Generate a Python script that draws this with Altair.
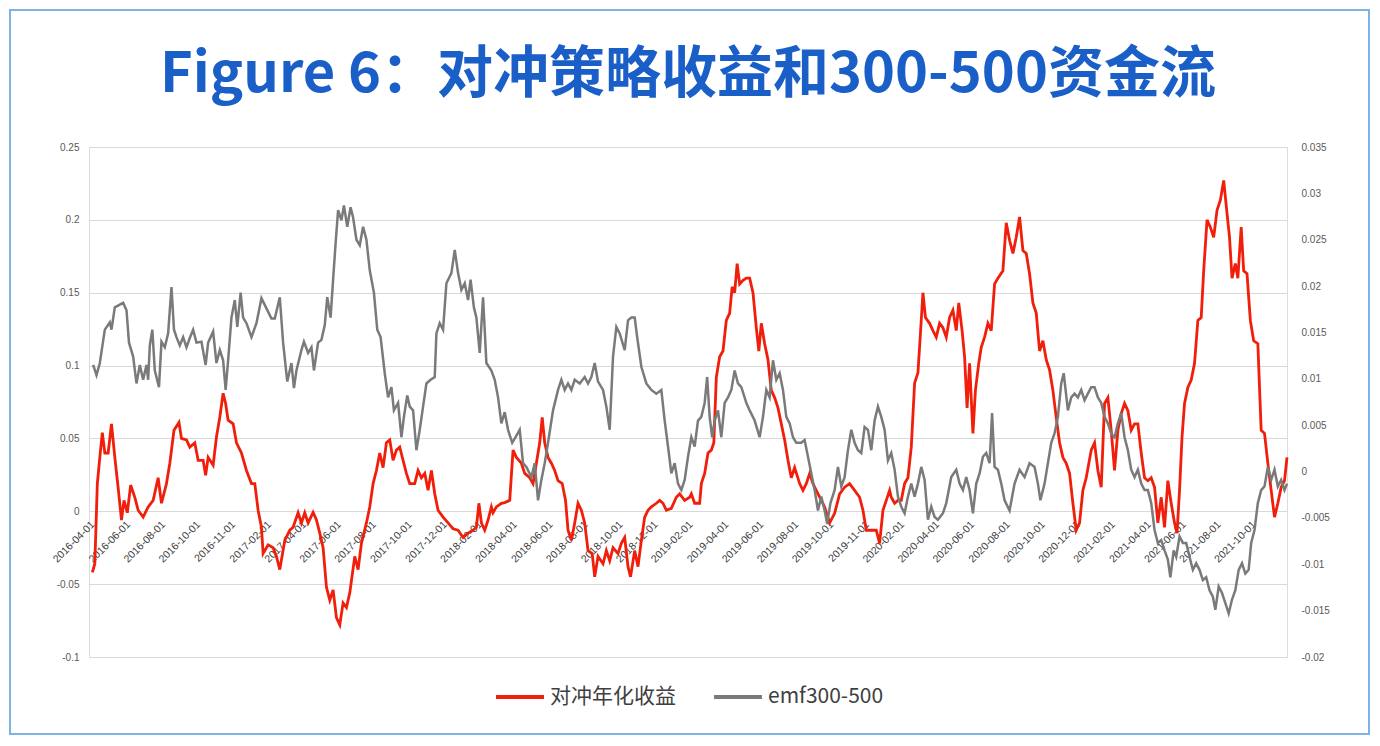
import altair as alt
import pandas as pd

# ---------------- data (trading-day index, value) ----------------
red_t = [0,3,6,9,12,15,19,23,27,31,35,38,42,46,51,55,61,67,73,79,83,89,93,98,104,107,113,117,123,127,133,136,139,145,149,153,157,160,163,169,173,179,185,191,195,199,203,205,211,217,221,225,231,237,
         241,247,251,255,259,265,269,273,277,281,285,289,293,297,301,305,309,315,319,323,329,333,337,341,345,349,353,357,361,365,369,373,377,381,387,391,395,399,403,407,411,415,421,427,433,439,445,451,457,461,464,467,471,475,479,
         481,485,491,495,501,505,509,515,519,525,529,533,537,540,543,547,551,555,559,564,568,571,575,579,583,587,591,595,600,603,607,613,617,621,625,631,635,639,643,646,651,655,659,663,667,671,677,681,685,689,695,701,705,711,717,
         719,723,729,731,735,739,743,746,749,753,757,761,765,768,771,774,777,781,785,789,793,797,800,803,807,811,815,819,823,827,831,835,839,843,849,853,857,861,865,869,875,879,885,891,897,903,909,915,921,925,929,935,941,945,949,953,957,
         959,963,967,971,975,979,983,987,991,994,997,1000,1005,1009,1013,1017,1021,1025,1029,1033,1037,1040,1044,1047,1050,1053,1057,1060,1064,1067,1071,1075,1079,1083,1087,1093,1097,1101,1105,1109,1113,1117,1121,1125,1129,1133,1137,1141,1145,1149,1153,1157,1161,1165,1169,1173,1177,1181,1185,1189,1193,1199,
         1203,1207,1211,1215,1219,1223,1227,1231,1235,1239,1243,1247,1251,1255,1259,1263,1267,1271,1275,1279,1283,1287,1291,1295,1299,1302,1305,1308,1311,1315,1319,1323,1327,1331,1334,1338,1342,1346,1350,1354,1358,1362,1365,1368,1372,1375,1379,1382,1386,1390,1394,1399,1403,1407,1411,1415,1419,1423,1427,1431,1434]
red_v = [-0.042,-0.036,0.019,0.037,0.054,0.04,0.04,0.06,0.037,0.016,-0.006,0.0075,-0.001,0.018,0.0096,0.0007,-0.004,0.003,0.0075,0.023,0.0055,0.019,0.033,0.0556,0.061,0.05,0.049,0.044,0.047,0.035,0.035,0.0247,0.037,0.0316,0.051,0.0645,0.081,0.074,0.0625,0.06,0.047,0.04,0.028,0.019,0.019,0.0007,-0.011,-0.029,-0.023,-0.025,-0.031,-0.04,-0.02,-0.013,
         -0.011,-0.001,-0.008,-0.001,-0.008,-0.0007,-0.006,-0.015,-0.025,-0.052,-0.061,-0.054,-0.073,-0.078,-0.063,-0.066,-0.056,-0.031,-0.04,-0.022,-0.008,0.003,0.019,0.028,0.04,0.030,0.047,0.049,0.035,0.042,0.044,0.035,0.026,0.019,0.019,0.028,0.023,0.026,0.0144,0.028,0.012,0.0007,-0.004,-0.008,-0.012,-0.013,-0.018,-0.015,-0.013,-0.011,0.0055,-0.008,-0.013,-0.006,0.003,
         -0.001,0.003,0.0055,0.006,0.0075,0.042,0.037,0.033,0.026,0.023,0.019,0.033,0.047,0.0645,0.047,0.037,0.033,0.028,0.021,0.019,0.0075,-0.013,-0.02,-0.008,0.0055,0.0007,-0.008,-0.027,-0.029,-0.045,-0.031,-0.036,-0.027,-0.034,-0.025,-0.029,-0.022,-0.018,-0.038,-0.045,-0.027,-0.038,-0.02,-0.004,0.0007,0.003,0.0055,0.0075,0.0055,0.0007,0.002,0.0096,0.012,0.0075,0.0096,
         0.012,0.0055,0.0055,0.019,0.026,0.04,0.042,0.047,0.092,0.106,0.11,0.131,0.136,0.154,0.15,0.17,0.156,0.1585,0.16,0.16,0.15,0.126,0.11,0.129,0.115,0.104,0.083,0.078,0.071,0.06,0.049,0.035,0.023,0.03,0.019,0.0144,0.019,0.026,0.019,0.0144,0.0075,0.003,-0.008,-0.0014,0.012,0.0165,0.019,0.0144,0.0096,0.0007,-0.013,-0.013,-0.013,-0.022,0.0007,0.0075,0.0144,
         0.0096,0.0055,0.0075,0.0075,0.019,0.023,0.044,0.088,0.095,0.122,0.15,0.133,0.129,0.124,0.1195,0.129,0.126,0.1195,0.133,0.138,0.124,0.143,0.124,0.106,0.071,0.1015,0.0535,0.083,0.1015,0.1125,0.1195,0.129,0.124,0.156,0.16,0.165,0.198,0.186,0.177,0.188,0.202,0.179,0.177,0.163,0.143,0.136,0.11,0.117,0.104,0.097,0.083,0.0645,0.047,0.037,0.033,0.026,0.0055,-0.013,-0.008,0.0144,0.023,0.042,
         0.047,0.028,0.0165,0.074,0.078,0.0556,0.028,0.0556,0.067,0.074,0.069,0.0556,0.06,0.06,0.04,0.023,0.021,0.023,0.0165,-0.008,0.0096,-0.011,0.021,0.0055,-0.008,-0.015,0.0144,0.051,0.074,0.085,0.09,0.1015,0.131,0.133,0.165,0.2,0.195,0.188,0.2066,0.2135,0.227,0.2045,0.188,0.16,0.17,0.16,0.195,0.165,0.163,0.131,0.117,0.115,0.0556,0.0535,0.033,0.0144,-0.004,0.0055,0.0165,0.021,0.037]

gray_t = [1,5,9,15,21,23,27,33,37,41,44,49,53,57,61,65,67,69,72,75,80,83,87,91,95,98,101,105,109,113,117,121,125,131,136,139,145,149,153,157,160,163,167,171,174,178,181,185,191,197,203,209,215,219,225,229,234,
          239,242,245,251,254,259,263,266,271,275,279,282,286,289,292,295,299,302,306,310,313,317,321,325,329,333,338,342,346,351,355,359,362,367,371,374,378,381,385,389,393,397,401,406,411,413,417,421,425,431,435,439,443,447,451,454,458,461,465,469,473,479,
          483,487,491,495,499,504,508,513,517,521,527,531,535,539,543,547,553,559,563,567,571,575,579,585,591,595,599,603,607,613,617,621,625,629,633,639,643,647,651,654,659,665,671,677,683,687,691,695,699,703,707,711,715,719,
          723,727,731,735,738,741,744,747,751,755,759,763,767,771,775,779,785,789,795,801,805,809,813,817,821,825,829,833,837,841,845,851,855,859,863,867,871,875,879,882,886,891,895,899,903,907,911,915,919,923,927,931,935,939,943,947,951,955,959,
          963,967,971,975,979,983,987,991,995,999,1003,1007,1011,1015,1021,1025,1031,1037,1041,1045,1049,1053,1057,1061,1065,1069,1073,1077,1080,1083,1087,1091,1095,1101,1107,1113,1119,1125,1131,1135,1138,1143,1147,1151,1155,1159,1163,1166,1171,1175,1179,1183,1187,1191,1195,1199,
          1203,1207,1211,1215,1219,1223,1227,1231,1235,1239,1243,1247,1251,1255,1259,1263,1267,1271,1275,1279,1283,1287,1291,1294,1298,1301,1305,1309,1313,1317,1321,1325,1329,1333,1337,1341,1345,1348,1352,1356,1360,1364,1368,1372,1376,1380,1384,1388,1391,1395,1399,1403,1407,1411,1415,1419,1423,1427,1431,1434]
gray_v = [0.0115,0.0104,0.0117,0.0153,0.0161,0.0153,0.0177,0.018,0.0182,0.0174,0.0139,0.0124,0.0095,0.0115,0.0099,0.0115,0.0099,0.0136,0.0153,0.0109,0.0091,0.014,0.0134,0.0149,0.0199,0.0153,0.0145,0.0136,0.0145,0.0134,0.0144,0.0153,0.0139,0.014,0.0115,0.0139,0.0151,0.0117,0.0131,0.012,0.0088,0.012,0.0166,0.0185,0.0156,0.0193,0.0166,0.016,0.0145,0.016,0.0187,0.0176,0.0165,0.0165,0.0188,0.0139,0.0097,
          0.0117,0.009,0.0109,0.0131,0.014,0.0128,0.0134,0.0109,0.0139,0.0142,0.0158,0.0188,0.0166,0.0207,0.0246,0.0282,0.0271,0.0287,0.0264,0.0285,0.0274,0.025,0.0244,0.0264,0.025,0.0217,0.0193,0.0153,0.0145,0.0106,0.008,0.0091,0.0066,0.0074,0.0037,0.0059,0.0082,0.007,0.0066,0.0023,0.0045,0.007,0.0095,0.0099,0.0102,0.0149,0.016,0.0153,0.0203,0.0214,0.0239,0.0214,0.0196,0.0203,0.0185,0.0207,0.0177,0.0166,0.0128,0.0188,0.0117,0.0109,
          0.0099,0.008,0.0052,0.0064,0.0045,0.0031,0.0037,0.0045,0.0009,0.0005,-0.0006,0.0009,-0.0031,-0.0009,0.0009,0.0031,0.0066,0.0088,0.0099,0.0088,0.0095,0.0088,0.0099,0.0095,0.0102,0.0095,0.0102,0.0117,0.0097,0.0088,0.007,0.0045,0.0124,0.0156,0.0149,0.0131,0.0163,0.0166,0.0166,0.0145,0.0113,0.0095,0.0088,0.0084,0.0088,0.0055,0.0027,-0.0002,0.0009,-0.0013,-0.002,-0.0009,0.0016,0.0037,
          0.0027,0.0055,0.0059,0.0074,0.0102,0.0059,0.0037,0.0055,0.0066,0.0037,0.0074,0.008,0.0088,0.0109,0.0095,0.0091,0.0074,0.0066,0.0055,0.0037,0.0059,0.0088,0.008,0.012,0.0099,0.0106,0.0088,0.0059,0.0052,0.0037,0.0031,0.0031,0.0034,0.0016,-0.0002,-0.002,-0.0042,-0.0027,-0.0042,-0.0056,-0.0034,-0.002,0.0005,-0.0016,-0.0006,0.0023,0.0045,0.0031,0.0023,0.002,0.0048,0.0045,0.0023,0.0055,0.007,0.0059,0.0045,0.0012,0.002,
          0.0002,-0.0027,-0.0038,-0.0045,-0.0027,-0.0013,-0.0027,-0.0013,0.0005,-0.0009,-0.0052,-0.0038,-0.0049,-0.0052,-0.0045,-0.0034,-0.0006,0.0002,-0.0013,-0.002,-0.0006,-0.002,-0.0045,-0.0013,-0.0002,0.0016,0.002,0.0009,0.0063,0.0005,0.0002,-0.0013,-0.0031,-0.0042,-0.0013,0.0002,-0.0006,0.0009,0.0005,-0.0013,-0.0031,-0.0013,0.0009,0.0031,0.0041,0.0059,0.0095,0.0106,0.0066,0.008,0.0084,0.008,0.0088,0.0077,0.0084,0.0091,
          0.0091,0.008,0.0074,0.0059,0.0052,0.0041,0.0037,0.0052,0.0063,0.0037,0.0023,0.0002,-0.0006,0.0002,-0.0013,-0.002,-0.002,-0.0034,-0.0063,-0.0077,-0.0074,-0.0085,-0.0095,-0.0114,-0.0085,-0.0092,-0.007,-0.0077,-0.0077,-0.0092,-0.0106,-0.0099,-0.0106,-0.0117,-0.0114,-0.0128,-0.0135,-0.0149,-0.0124,-0.0131,-0.0142,-0.0153,-0.0138,-0.0128,-0.0106,-0.0099,-0.011,-0.0106,-0.0077,-0.0063,-0.0034,-0.002,-0.0016,0.0005,-0.0009,0.0002,-0.0016,-0.0009,-0.002,-0.0013]

x_labels = ["2016-04-01","2016-06-01","2016-08-01","2016-10-01","2016-11-01","2017-02-01","2017-04-01",
            "2017-06-01","2017-08-01","2017-10-01","2017-12-01","2018-02-01","2018-04-01","2018-06-01",
            "2018-08-01","2018-10-01","2018-12-01","2019-02-01","2019-04-01","2019-06-01","2019-08-01",
            "2019-10-01","2019-11-01","2020-02-01","2020-04-01","2020-06-01","2020-08-01","2020-10-01",
            "2020-12-01","2021-02-01","2021-04-01","2021-06-01","2021-08-01","2021-10-01"]
left_ticks = [0.25, 0.2, 0.15, 0.1, 0.05, 0, -0.05, -0.1]
right_ticks = [0.035, 0.03, 0.025, 0.02, 0.015, 0.01, 0.005, 0, -0.005, -0.01, -0.015, -0.02]
series_names = ["对冲年化收益", "emf300-500"]
series_colors = ["#f01e0a", "#7a7a7a"]
title_text = "Figure 6：对冲策略收益和300-500资金流"

# ---------------- chart ----------------
W, H = 1198, 510
x_pos = [round(42.24 * k - 3.6) for k in range(len(x_labels))]
lbl_arr = "[" + ",".join("'" + s + "'" for s in x_labels) + "]"
pos_arr = "[" + ",".join(str(p) for p in x_pos) + "]"
x_expr = f"{lbl_arr}[indexof({pos_arr}, datum.value)]"

red_df = pd.DataFrame({"t": red_t, "v": red_v, "s": series_names[0]})
gray_df = pd.DataFrame({"t": gray_t, "v": gray_v, "s": series_names[1]})

x_enc = alt.X("t:Q", scale=alt.Scale(domain=[-4, 1434], nice=False, zero=False),
              axis=alt.Axis(values=x_pos, labelExpr=x_expr, labelAngle=-45, grid=False,
                            domain=False, ticks=False, offset=-146, title=None,
                            labelFontSize=10.5, labelColor="#404040", labelFont="Liberation Sans",
                            labelPadding=8, labelOverlap=False, labelFlush=False))

color_enc = alt.Color(
    "s:N",
    scale=alt.Scale(domain=series_names, range=series_colors),
    legend=alt.Legend(orient="none", legendX=405, legendY=524, direction="horizontal", title=None,
                      symbolType="stroke", symbolSize=2300, symbolStrokeWidth=4,
                      labelFontSize=21, labelFont="Noto Sans CJK SC", labelColor="#404040",
                      columnPadding=30, labelOffset=4, labelLimit=0),
)

red = alt.Chart(red_df).mark_line(strokeWidth=2.8).encode(
    x=x_enc,
    y=alt.Y("v:Q", scale=alt.Scale(domain=[-0.1, 0.25], nice=False, zero=False),
            axis=alt.Axis(values=left_ticks, labelExpr="replace(format(datum.value, '.2~f'), '−', '-')",
                          grid=True, gridColor="#d9d9d9", gridWidth=1, domain=False, ticks=False,
                          title=None, labelFontSize=10, labelColor="#595959",
                          labelFont="Liberation Sans", labelPadding=10)),
    color=color_enc,
)

gray = alt.Chart(gray_df).mark_line(strokeWidth=2.5).encode(
    x=x_enc,
    y=alt.Y("v:Q", scale=alt.Scale(domain=[-0.02, 0.035], nice=False, zero=False),
            axis=alt.Axis(orient="right", values=right_ticks,
                          labelExpr="replace(format(datum.value, '.3~f'), '−', '-')",
                          grid=False, domain=False, ticks=False, title=None,
                          labelFontSize=10, labelColor="#595959", labelFont="Liberation Sans",
                          labelPadding=14)),
    color=color_enc,
)

frame = alt.Chart(pd.DataFrame({"a": [0]})).mark_rect(
    fill="transparent", stroke="#7fb0e6", strokeWidth=2
).encode(x=alt.value(-79), x2=alt.value(W + 82), y=alt.value(-137), y2=alt.value(H + 77))

chart = alt.layer(red, gray, frame).resolve_scale(y="independent").properties(
    width=W, height=H,
    title=alt.Title(title_text, fontSize=56, font="Noto Sans CJK SC", fontWeight="bold",
                    color="#1a5fc8", anchor="middle", offset=-95),
    autosize=alt.AutoSizeParams(type="none"),
    padding={"left": 81, "top": 139, "right": 85, "bottom": 80},
).configure_view(stroke=None).configure(background="white")

chart.save("out.html", embed_options={"renderer": "svg", "actions": False})
